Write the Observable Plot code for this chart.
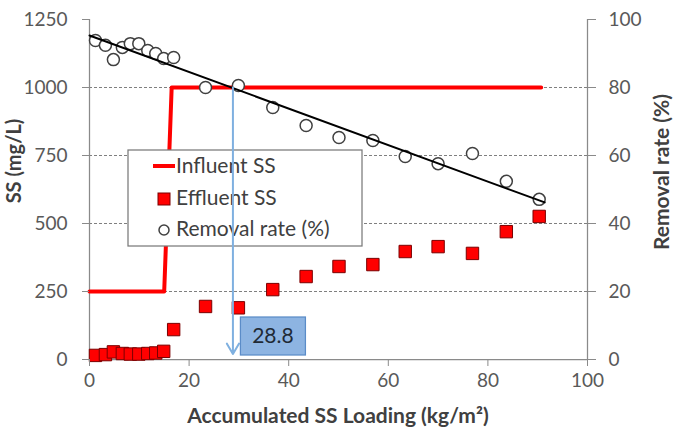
<!DOCTYPE html>
<html><head><meta charset="utf-8">
<script src="https://cdn.jsdelivr.net/npm/d3@7"></script>
<script src="https://cdn.jsdelivr.net/npm/@observablehq/plot@0.6"></script>
<style>
body{margin:0;background:#fff;}
#chart{width:678px;height:431px;}
</style>
</head><body><div id="chart"></div>
<script>
// ---- data ----
const loading = [1.2,3.2,4.8,6.6,8.2,9.9,11.7,13.3,14.9,16.9,23.3,29.9,36.8,43.5,50.1,56.9,63.4,70.0,76.9,83.7,90.3];
const effluentSS = [15,18,28,22,20,20,22,24,30,110,195,190,257,305,342,349,397,415,390,470,526];
const removalRate = [93.8,92.4,88.2,91.8,92.9,92.9,90.9,90.0,88.5,88.8,80.0,80.6,74.1,68.8,65.3,64.4,59.7,57.6,60.6,52.4,47.1];
const influentX = [0,15,16.5,90.7];
const influentSS = [250,250,1000,1000];
const trendX = [0,91.4];
const trendRate = [95.3,46.2];
const annotX = 28.8;
const annotTop = 1000;
const annotBottom = 20;
const xTicks = [0,20,40,60,80,100];
const ssTicks = [0,250,500,750,1000,1250];
const gridTicks = [250,500,750,1000];
const legendLabels = ["Influent SS","Effluent SS","Removal rate (%)"];
const xTitle = "Accumulated SS Loading (kg/m²)";
const yTitle = "SS (mg/L)";
const y2Title = "Removal rate (%)";

// right axis (0-100 %) mapped onto left axis (0-1250 mg/L)
const rateScale = 1250 / 100;

const pts = loading.map((x,i)=>({x, eff: effluentSS[i], rate: removalRate[i] * rateScale}));
const influent = influentX.map((x,i)=>({x, y: influentSS[i]}));
const trend = trendX.map((x,i)=>({x, y: trendRate[i] * rateScale}));

const FONT = "Lato, 'Open Sans', sans-serif";
const TXT = "#595959";
const AX = "#8a8a8a";

function legendMark() {
  const g = d3.create("svg:g").attr("font-family", FONT).attr("font-size", 21)
    .attr("fill", "#404040").attr("text-anchor","start");
  g.append("rect").attr("x",128).attr("y",150).attr("width",234).attr("height",96)
    .attr("fill","white").attr("stroke","#7a7a7a").attr("stroke-width",1.25);
  g.append("line").attr("x1",153).attr("x2",175).attr("y1",166).attr("y2",166)
    .attr("stroke","#ff0000").attr("stroke-width",4);
  g.append("rect").attr("x",158).attr("y",193).attr("width",12).attr("height",12)
    .attr("fill","#ff0000").attr("stroke","#7a0000").attr("stroke-width",1);
  g.append("circle").attr("cx",164).attr("cy",230).attr("r",5)
    .attr("fill","white").attr("stroke","#404040").attr("stroke-width",1.5);
  const ys = [166,198,229];
  legendLabels.forEach((t,i)=>{
    g.append("text").attr("x",176).attr("y",ys[i]).attr("dy","0.35em")
      .attr("text-anchor","start").text(t);
  });
  return g.node();
}

function annotLabel(index, scales) {
  const x0 = scales.x(annotX), yb = scales.y(0);
  const g = d3.create("svg:g");
  g.append("rect").attr("x", x0 + 8).attr("y", yb - 42).attr("width", 65).attr("height", 38)
    .attr("fill","#8db4e2").attr("stroke","#5b8cc8").attr("stroke-width",1.25);
  g.append("text").attr("x", x0 + 8 + 32.5).attr("y", yb - 23).attr("dy","0.35em")
    .attr("text-anchor","middle").attr("font-family",FONT).attr("font-size",21)
    .attr("fill","#1f2a36").text(String(annotX));
  return g.node();
}

function titles(index, scales, values, dim) {
  const g = d3.create("svg:g").attr("font-family", FONT).attr("font-size", 21)
    .attr("font-weight","bold").attr("fill","#404040").attr("text-anchor","middle");
  g.append("text").attr("x", (dim.marginLeft + dim.width - dim.marginRight)/2).attr("y", 416)
    .attr("dy","0.35em").text(xTitle);
  g.append("text").attr("transform","translate(14,161) rotate(-90)").attr("dy","0.35em")
    .attr("font-size",20).text(yTitle);
  g.append("text").attr("transform","translate(662,172) rotate(-90)").attr("dy","0.35em").text(y2Title);
  return g.node();
}

const chart = Plot.plot({
  width: 678, height: 431,
  marginLeft: 89, marginRight: 91, marginTop: 19, marginBottom: 72,
  x: {domain: [0,100]},
  y: {domain: [0,1250]},
  style: {fontFamily: FONT, background: "white"},
  marks: [
    Plot.ruleY(gridTicks, {stroke: "#7f7f7f", strokeDasharray: "3,2", strokeWidth: 1}),
    Plot.ruleX([0,100], {stroke: AX, strokeWidth: 1.25}),
    Plot.ruleY([0], {stroke: AX, strokeWidth: 1.25}),
    Plot.line(influent, {x: "x", y: "y", stroke: "#ff0000", strokeWidth: 4}),
    Plot.dot(pts, {x: "x", y: "eff", symbol: "square", r: 7, fill: "#ff0000", stroke: "#7a0000", strokeWidth: 1}),
    Plot.dot(pts, {x: "x", y: "rate", r: 6, fill: "white", stroke: "#404040", strokeWidth: 1.5}),
    Plot.line(trend, {x: "x", y: "y", stroke: "black", strokeWidth: 2}),
    legendMark,
    Plot.arrow([annotX], {x1: d=>d, x2: d=>d, y1: annotTop, y2: annotBottom, stroke: "#7fb0e0", strokeWidth: 2, headLength: 9}),
    annotLabel,
    Plot.axisX({ticks: xTicks, tickFormat: d => String(d), tickSize: 7, tickPadding: 7, stroke: AX, fill: TXT, fontSize: 19, label: null}),
    Plot.axisY({ticks: ssTicks, tickFormat: d => String(d), tickSize: 7, tickPadding: 15, stroke: AX, fill: TXT, fontSize: 19, label: null}),
    Plot.axisY({anchor: "right", ticks: ssTicks, tickFormat: d => String(d / rateScale), tickSize: 8, tickPadding: 13, stroke: AX, fill: TXT, fontSize: 19, label: null}),
    titles
  ]
});
document.getElementById("chart").appendChild(chart);
</script>
</body></html>
